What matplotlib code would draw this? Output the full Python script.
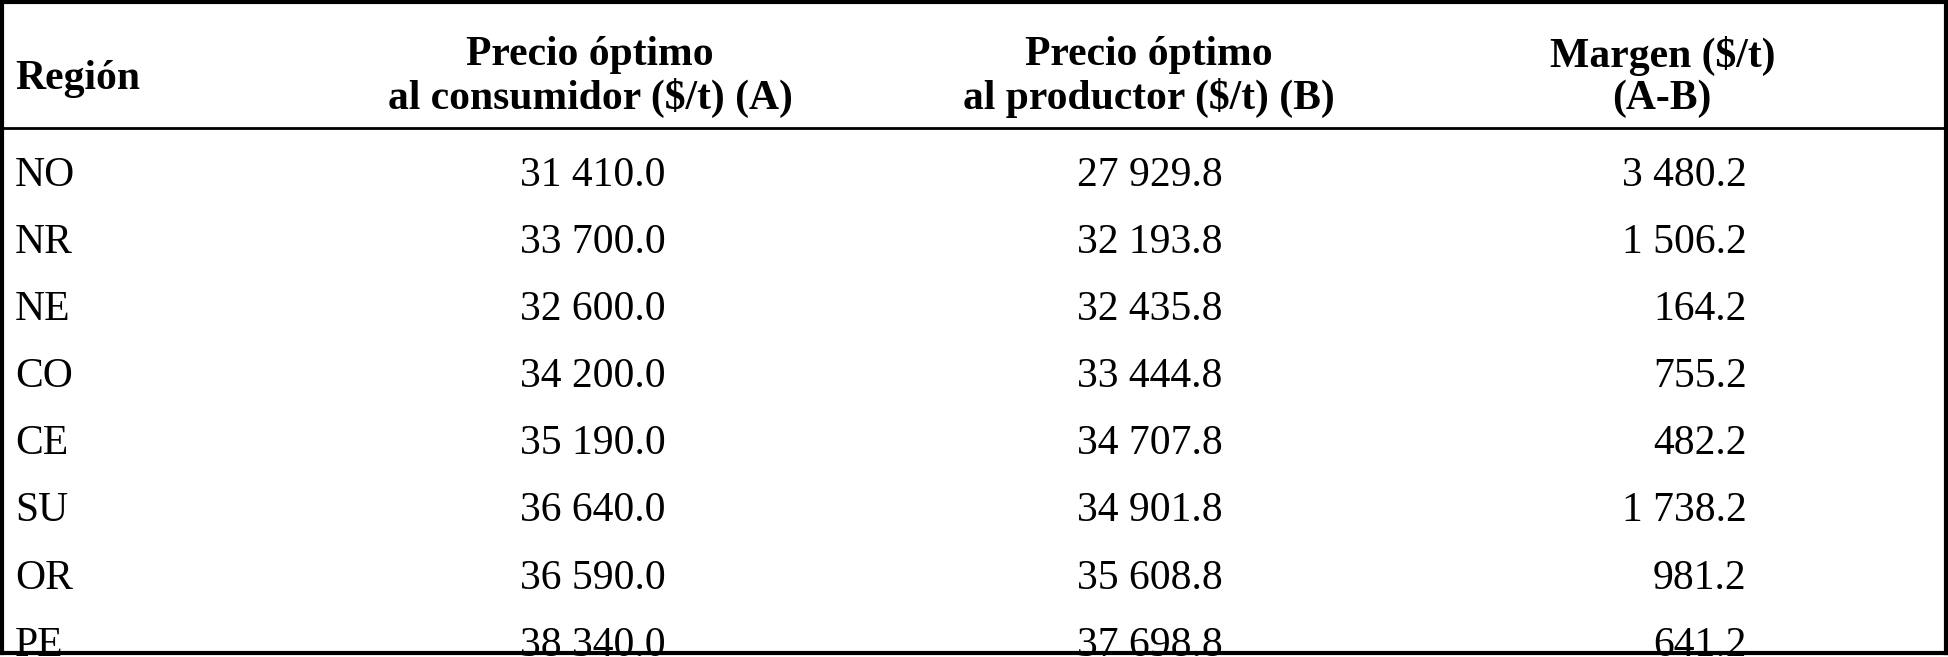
import matplotlib
matplotlib.use("Agg")
import matplotlib.pyplot as plt
from matplotlib.lines import Line2D

regions = ["NO", "NR", "NE", "CO", "CE", "SU", "OR", "PE"]
precio_consumidor = ["31 410.0", "33 700.0", "32 600.0", "34 200.0", "35 190.0", "36 640.0", "36 590.0", "38 340.0"]
precio_productor = ["27 929.8", "32 193.8", "32 435.8", "33 444.8", "34 707.8", "34 901.8", "35 608.8", "37 698.8"]
margen = ["3 480.2", "1 506.2", "164.2", "755.2", "482.2", "1 738.2", "981.2", "641.2"]
headers = ["Región", "Precio óptimo\nal consumidor (\\$/t) (A)", "Precio óptimo\nal productor (\\$/t) (B)", "Margen (\\$/t)\n(A-B)"]

W, H = 1568, 529
fig = plt.figure(figsize=(19.48, 6.57), dpi=100)
fig.patch.set_facecolor("white")
fs = 30
font = "Liberation Serif"

def X(x): return x / W
def Y(y): return 1 - y / H

for (x0, y0, x1, y1, lw) in [(2, 2, 1566, 2, 3), (2, 526, 1566, 526, 3), (2, 2, 2, 526, 3),
                               (1566, 2, 1566, 526, 3), (2, 103, 1566, 103, 2)]:
    fig.add_artist(Line2D([X(x0), X(x1)], [Y(y0), Y(y1)], color="black", lw=lw, transform=fig.transFigure))

fig.text(X(12), Y(60), headers[0], ha="left", va="center_baseline", fontsize=fs, fontweight="bold", family=font)
for cx, h in zip([475, 925, 1338], headers[1:]):
    fig.text(X(cx), Y(62), h, ha="center", va="center", fontsize=fs, fontweight="bold",
             family=font, linespacing=1.1)

row_y = [138, 192, 246, 300, 354, 408, 462, 516]
for i, y in enumerate(row_y):
    kw = dict(va="center_baseline", fontsize=fs, family=font)
    fig.text(X(12), Y(y), regions[i], ha="left", **kw)
    fig.text(X(536), Y(y), precio_consumidor[i], ha="right", **kw)
    fig.text(X(984), Y(y), precio_productor[i], ha="right", **kw)
    fig.text(X(1406), Y(y), margen[i], ha="right", **kw)

fig.savefig("out.png", dpi=100, facecolor="white")
